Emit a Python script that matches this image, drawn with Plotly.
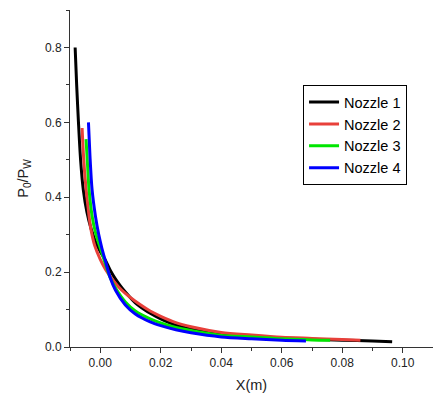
import plotly.graph_objects as go

names = ["Nozzle 1", "Nozzle 2", "Nozzle 3", "Nozzle 4"]
colors = ["#000000", "#e8403a", "#00e600", "#0000ff"]

x1 = [-0.0083, -0.0078, -0.0072, -0.0065, -0.0056, -0.0044, -0.003, -0.0015, 0.0, 0.0017, 0.0033, 0.005, 0.0066, 0.0083, 0.0116, 0.0149, 0.0165, 0.02, 0.025, 0.03, 0.04, 0.05, 0.06, 0.07, 0.08, 0.09, 0.0965]
y1 = [0.80, 0.70, 0.60, 0.50, 0.42, 0.36, 0.315, 0.28, 0.255, 0.232, 0.205, 0.182, 0.164, 0.147, 0.118, 0.098, 0.090, 0.075, 0.058, 0.048, 0.035, 0.029, 0.024, 0.021, 0.018, 0.016, 0.014]

x2 = [-0.006, -0.0056, -0.005, -0.0042, -0.0032, -0.0018, 0.0, 0.0017, 0.0039, 0.006, 0.0083, 0.0116, 0.0149, 0.0165, 0.02, 0.025, 0.03, 0.04, 0.05, 0.06, 0.07, 0.08, 0.086]
y2 = [0.585, 0.52, 0.45, 0.385, 0.32, 0.27, 0.234, 0.208, 0.182, 0.161, 0.143, 0.122, 0.104, 0.096, 0.082, 0.065, 0.054, 0.039, 0.032, 0.026, 0.023, 0.020, 0.018]

x3 = [-0.0047, -0.0043, -0.0037, -0.0027, -0.0014, 0.0, 0.0017, 0.0033, 0.005, 0.0083, 0.0116, 0.0165, 0.02, 0.025, 0.03, 0.04, 0.05, 0.06, 0.07, 0.076]
y3 = [0.555, 0.50, 0.42, 0.35, 0.30, 0.265, 0.222, 0.185, 0.158, 0.120, 0.096, 0.075, 0.064, 0.052, 0.044, 0.031, 0.027, 0.022, 0.019, 0.018]

x4 = [-0.0039, -0.0034, -0.0027, -0.0016, -0.0005, 0.0005, 0.0017, 0.0033, 0.005, 0.0083, 0.0116, 0.0165, 0.02, 0.025, 0.03, 0.04, 0.05, 0.06, 0.068]
y4 = [0.60, 0.51, 0.42, 0.35, 0.30, 0.265, 0.23, 0.185, 0.152, 0.112, 0.088, 0.067, 0.057, 0.046, 0.038, 0.027, 0.022, 0.018, 0.016]

xs = [x1, x2, x3, x4]
ys = [y1, y2, y3, y4]

fig = go.Figure()
for n, c, x, y in zip(names, colors, xs, ys):
    fig.add_trace(go.Scatter(x=x, y=y, mode="lines", name=n,
                             line=dict(color=c, width=3, shape="spline", smoothing=0.8)))

font = "Arial, Liberation Sans, sans-serif"
fig.update_layout(
    width=433, height=403,
    margin=dict(l=70, r=0, t=10, b=56),
    plot_bgcolor="white", paper_bgcolor="white",
    font=dict(family=font, size=12, color="#222"),
    legend=dict(x=0.642, y=0.777, xanchor="left", yanchor="top",
                bordercolor="#000", borderwidth=1, bgcolor="white",
                font=dict(size=14.5, color="#000"), tracegroupgap=0,
                itemwidth=30),
)
fig.update_xaxes(range=[-0.01, 0.11], dtick=0.02, tick0=0, tickformat=".2f",
                 showgrid=False, zeroline=False, showline=True, linecolor="#333",
                 linewidth=1, ticks="outside", ticklen=5, tickcolor="#333",
                 minor=dict(ticks="outside", dtick=0.01, tick0=0, ticklen=3, tickcolor="#333"),
                 title=dict(text="X(m)", font=dict(size=14.5, color="#222"), standoff=10))
fig.update_yaxes(range=[0, 0.9], dtick=0.2, tick0=0, tickformat=".1f",
                 showgrid=False, zeroline=False, showline=True, linecolor="#333",
                 linewidth=1, ticks="outside", ticklen=5, tickcolor="#333",
                 minor=dict(ticks="outside", dtick=0.1, tick0=0, ticklen=3, tickcolor="#333"),
                 title=dict(text="P<sub>0</sub>/P<sub>W</sub>", font=dict(size=14.5, color="#222"), standoff=12))

fig.write_html("out.html")
